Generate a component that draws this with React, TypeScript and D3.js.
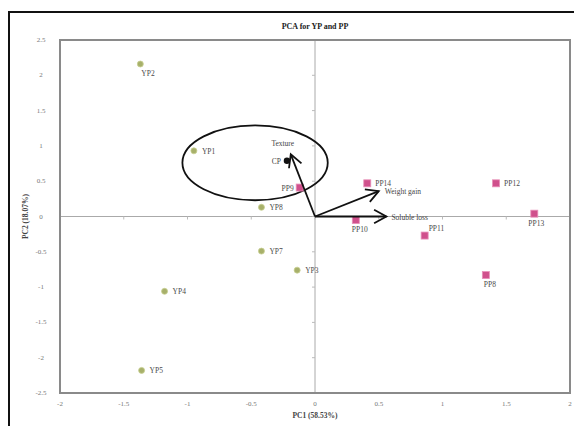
import React from 'react';
import * as d3 from 'd3';

// scores and loadings
const ypNames = ['YP1', 'YP2', 'YP3', 'YP4', 'YP5', 'YP7', 'YP8'];
const ypPc1 = [-0.95, -1.37, -0.14, -1.18, -1.36, -0.42, -0.42];
const ypPc2 = [0.93, 2.16, -0.76, -1.06, -2.18, -0.49, 0.13];

const ppNames = ['PP8', 'PP9', 'PP10', 'PP11', 'PP12', 'PP13', 'PP14'];
const ppPc1 = [1.34, -0.12, 0.32, 0.86, 1.42, 1.72, 0.41];
const ppPc2 = [-0.83, 0.41, -0.05, -0.27, 0.47, 0.04, 0.47];

const cpPoint = { name: 'CP', pc1: -0.22, pc2: 0.79 };

const loadNames = ['Texture', 'Weight gain', 'Soluble loss'];
const loadPc1 = [-0.19, 0.5, 0.56];
const loadPc2 = [0.88, 0.36, 0.0];

const ellipse = { cx: -0.47, cy: 0.76, rx: 0.57, ry: 0.53 };

const xTicks = [-2, -1.5, -1, -0.5, 0, 0.5, 1, 1.5, 2];
const yTicks = [2.5, 2, 1.5, 1, 0.5, 0, -0.5, -1, -1.5, -2, -2.5];

const W = 574;
const H = 426;
const plot = { left: 60, right: 570, top: 40, bottom: 393 };

// label offsets relative to point, per name
const labelPos: Record<string, [number, number, string]> = {
  YP2: [1, 12, 'start'],
  PP8: [-2, 12, 'start'],
  PP9: [-6, 3, 'end'],
  PP10: [-4, 12, 'start'],
  PP13: [-6, 12, 'start'],
  PP11: [4, -5, 'start'],
};

export default function App() {
  const x = d3.scaleLinear().domain([-2, 2]).range([plot.left, plot.right]);
  const y = d3.scaleLinear().domain([-2.5, 2.5]).range([plot.bottom, plot.top]);
  const fmt = (v: number) => String(v);
  const font = '"Liberation Serif", "DejaVu Serif", serif';

  const label = (name: string, px: number, py: number) => {
    const p = labelPos[name];
    if (p) {
      return (
        <text x={px + p[0]} y={py + p[1]} fontSize={7.5} fill="#4a4a4a" fontFamily={font} textAnchor={p[2] as any}>
          {name}
        </text>
      );
    }
    return (
      <text x={px + 8} y={py + 3} fontSize={7.5} fill="#4a4a4a" fontFamily={font}>
        {name}
      </text>
    );
  };

  const arrowHead = (x1: number, y1: number, x2: number, y2: number) => {
    const ang = Math.atan2(y2 - y1, x2 - x1);
    const len = 14;
    const spread = 0.5;
    const a1 = [x2 - len * Math.cos(ang - spread), y2 - len * Math.sin(ang - spread)];
    const a2 = [x2 - len * Math.cos(ang + spread), y2 - len * Math.sin(ang + spread)];
    return `M${a1[0]},${a1[1]} L${x2},${y2} L${a2[0]},${a2[1]}`;
  };

  const loadLabelPos: Record<string, [number, number, string]> = {
    Texture: [-8, -8, 'middle'],
    'Weight gain': [6, 3, 'start'],
    'Soluble loss': [5, 3, 'start'],
  };

  return (
    <svg width={W} height={H} style={{ position: 'absolute', left: 0, top: 0, background: '#fff' }}>
      {/* outer frame */}
      <rect x={9} y={12} width={W + 20} height={H + 20} fill="none" stroke="#111" strokeWidth={2} />
      <text x={(plot.left + plot.right) / 2} y={29} textAnchor="middle" fontSize={8} fontWeight="bold" fontFamily={font} fill="#222">
        PCA for YP and PP
      </text>

      {/* zero lines */}
      <line x1={x(0)} x2={x(0)} y1={plot.top} y2={plot.bottom} stroke="#aaa" strokeWidth={1} />
      <line x1={plot.left} x2={plot.right} y1={y(0)} y2={y(0)} stroke="#aaa" strokeWidth={1} />
      {yTicks.map((t) => (
        <line key={'yt' + t} x1={x(0) - 3} x2={x(0)} y1={y(t)} y2={y(t)} stroke="#bbb" />
      ))}
      {xTicks.map((t) => (
        <line key={'xt' + t} x1={x(t)} x2={x(t)} y1={y(0)} y2={y(0) + 3} stroke="#bbb" />
      ))}

      {/* plot border */}
      <rect x={plot.left} y={plot.top} width={plot.right - plot.left} height={plot.bottom - plot.top} fill="none" stroke="#8a8a8a" strokeWidth={2} />

      {/* tick labels */}
      {xTicks.map((t) => (
        <text key={'xl' + t} x={x(t)} y={plot.bottom + 13} textAnchor="middle" fontSize={7} fill="#777" fontFamily={font}>
          {fmt(t)}
        </text>
      ))}
      {yTicks.map((t) => (
        <text key={'yl' + t} x={plot.left - 19} y={y(t) + 2} textAnchor="middle" fontSize={7} fill="#777" fontFamily={font}>
          {fmt(t)}
        </text>
      ))}

      <text x={(plot.left + plot.right) / 2} y={plot.bottom + 25} textAnchor="middle" fontSize={7.5} fontWeight="bold" fill="#444" fontFamily={font}>
        PC1 (58.53%)
      </text>
      <text
        transform={`translate(28,${(plot.top + plot.bottom) / 2}) rotate(-90)`}
        textAnchor="middle"
        fontSize={7.5}
        fontWeight="bold"
        fill="#444"
        fontFamily={font}
      >
        PC2 (18.07%)
      </text>

      {/* ellipse */}
      <ellipse
        cx={x(ellipse.cx)}
        cy={y(ellipse.cy)}
        rx={x(ellipse.rx) - x(0)}
        ry={y(0) - y(ellipse.ry)}
        fill="none"
        stroke="#111"
        strokeWidth={1.8}
      />

      {/* YP points */}
      {ypNames.map((n, i) => (
        <g key={n}>
          <circle cx={x(ypPc1[i])} cy={y(ypPc2[i])} r={3} fill="#a7b06a" stroke="#c8cf90" strokeWidth={0.8} />
          {label(n, x(ypPc1[i]), y(ypPc2[i]))}
        </g>
      ))}

      {/* PP points */}
      {ppNames.map((n, i) => (
        <g key={n}>
          <rect x={x(ppPc1[i]) - 3.5} y={y(ppPc2[i]) - 3.5} width={7} height={7} fill="#d0508c" stroke="#e890b8" strokeWidth={0.8} />
          {label(n, x(ppPc1[i]), y(ppPc2[i]))}
        </g>
      ))}

      {/* loadings */}
      {loadNames.map((n, i) => {
        const x1 = x(0);
        const y1 = y(0);
        const x2 = x(loadPc1[i]);
        const y2 = y(loadPc2[i]);
        const lp = loadLabelPos[n];
        return (
          <g key={n}>
            <line x1={x1} y1={y1} x2={x2} y2={y2} stroke="#111" strokeWidth={1.8} />
            <path d={arrowHead(x1, y1, x2, y2)} fill="none" stroke="#111" strokeWidth={1.8} />
            <text x={x2 + lp[0]} y={y2 + lp[1]} fontSize={7.5} fill="#444" fontFamily={font} textAnchor={lp[2] as any}>
              {n}
            </text>
          </g>
        );
      })}

      {/* CP */}
      <circle cx={x(cpPoint.pc1)} cy={y(cpPoint.pc2)} r={3.2} fill="#111" />
      <text x={x(cpPoint.pc1) - 6} y={y(cpPoint.pc2) + 3} textAnchor="end" fontSize={7.5} fill="#444" fontFamily={font}>
        {cpPoint.name}
      </text>
    </svg>
  );
}
